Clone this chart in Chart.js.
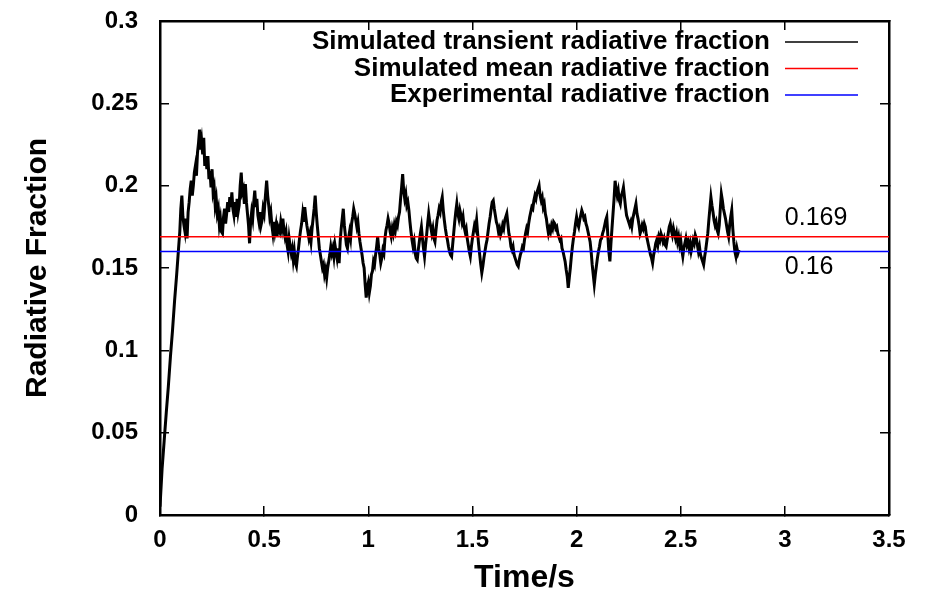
<!DOCTYPE html>
<html>
<head>
<meta charset="utf-8">
<script src="https://cdn.jsdelivr.net/npm/chart.js@4/dist/chart.umd.min.js"></script>
<style>
  html, body { margin: 0; padding: 0; background: #fff; }
</style>
</head>
<body>
<canvas id="radFraction" width="926" height="594"></canvas>
<script>
// time (s) of each sample of the transient radiative fraction
const timeS = [
  0, 0.01, 0.02, 0.03, 0.04, 0.05, 0.06, 0.07, 0.08, 0.088, 0.095,
  0.10, 0.105, 0.11, 0.115, 0.12, 0.125, 0.13, 0.135, 0.14, 0.145, 0.15, 0.155, 0.16, 0.165, 0.17, 0.175, 0.18, 0.185, 0.19, 0.195,
  0.20, 0.205, 0.21, 0.215, 0.22, 0.225, 0.23, 0.235, 0.24, 0.245, 0.25, 0.255, 0.26, 0.265, 0.27, 0.275, 0.28, 0.285, 0.29, 0.295,
  0.30, 0.305, 0.31, 0.315, 0.32, 0.325, 0.33, 0.335, 0.34, 0.345, 0.35, 0.355, 0.36, 0.365, 0.37, 0.375, 0.38, 0.385, 0.39, 0.395,
  0.40, 0.405, 0.41, 0.415, 0.42, 0.425, 0.43, 0.435, 0.44, 0.445, 0.45, 0.455, 0.46, 0.465, 0.47, 0.475, 0.48, 0.485, 0.49, 0.495,
  0.50, 0.505, 0.512, 0.517, 0.522, 0.527, 0.532, 0.537, 0.542, 0.547, 0.552, 0.557, 0.562, 0.567, 0.575, 0.58, 0.585, 0.59, 0.595,
  0.60, 0.605, 0.61, 0.615, 0.62, 0.625, 0.63, 0.635, 0.64, 0.645, 0.65, 0.655, 0.66, 0.665, 0.67, 0.675, 0.68, 0.685, 0.69, 0.695,
  0.70, 0.705, 0.71, 0.715, 0.72, 0.725, 0.73, 0.735, 0.74, 0.745, 0.75, 0.755, 0.76, 0.765, 0.77, 0.775, 0.78, 0.785, 0.79, 0.795,
  0.80, 0.805, 0.81, 0.815, 0.82, 0.825, 0.83, 0.835, 0.84, 0.845, 0.85, 0.855, 0.86, 0.865, 0.87, 0.875, 0.88, 0.885, 0.89, 0.895,
  0.90, 0.905, 0.91, 0.915, 0.92, 0.925, 0.93, 0.935, 0.94, 0.945, 0.95, 0.955, 0.96, 0.965, 0.97, 0.975, 0.98, 0.985, 0.99, 0.995,
  1.00, 1.005, 1.01, 1.015, 1.02, 1.025, 1.03, 1.035, 1.04, 1.045, 1.05, 1.055, 1.06, 1.065, 1.07, 1.075, 1.08, 1.085, 1.09, 1.095,
  1.10, 1.105, 1.11, 1.115, 1.12, 1.125, 1.13, 1.135, 1.14, 1.145, 1.15, 1.155, 1.16, 1.165, 1.17, 1.175, 1.18, 1.185, 1.19, 1.195,
  1.20, 1.205, 1.21, 1.215, 1.22, 1.225, 1.23, 1.235, 1.24, 1.245, 1.25, 1.255, 1.26, 1.265, 1.27, 1.275, 1.28, 1.285, 1.29, 1.295,
  1.30, 1.305, 1.31, 1.315, 1.32, 1.325, 1.33, 1.335, 1.34, 1.345, 1.35, 1.355, 1.36, 1.365, 1.37, 1.375, 1.38, 1.385, 1.39, 1.395,
  1.40, 1.405, 1.41, 1.415, 1.42, 1.425, 1.43, 1.435, 1.44, 1.445, 1.45, 1.455, 1.46, 1.465, 1.47, 1.475, 1.48, 1.485, 1.49, 1.495,
  1.50, 1.505, 1.51, 1.515, 1.52, 1.525, 1.53, 1.535, 1.54, 1.545, 1.55, 1.555, 1.56, 1.565, 1.57, 1.575, 1.58, 1.585, 1.59, 1.595,
  1.60, 1.605, 1.61, 1.615, 1.62, 1.625, 1.63, 1.635, 1.64, 1.645, 1.65, 1.655, 1.66, 1.665, 1.67, 1.675, 1.68, 1.685, 1.69, 1.695,
  1.70, 1.705, 1.71, 1.715, 1.72, 1.725, 1.73, 1.735, 1.74, 1.745, 1.75, 1.755, 1.76, 1.765, 1.77, 1.775, 1.78, 1.785, 1.79, 1.795,
  1.80, 1.805, 1.81, 1.815, 1.82, 1.825, 1.83, 1.835, 1.84, 1.845, 1.85, 1.855, 1.86, 1.865, 1.87, 1.875, 1.88, 1.885, 1.89, 1.895,
  1.90, 1.905, 1.91, 1.915, 1.92, 1.925, 1.93, 1.935, 1.94, 1.945, 1.95, 1.955, 1.96, 1.965, 1.97, 1.975, 1.98, 1.985, 1.99, 1.995,
  2.00, 2.005, 2.01, 2.015, 2.02, 2.025, 2.03, 2.035, 2.04, 2.045, 2.05, 2.055, 2.06, 2.065, 2.07, 2.075, 2.08, 2.085, 2.09, 2.095,
  2.10, 2.105, 2.11, 2.115, 2.12, 2.125, 2.13, 2.135, 2.14, 2.145, 2.15, 2.155, 2.16, 2.165, 2.17, 2.175, 2.18, 2.185, 2.19, 2.195,
  2.20, 2.205, 2.21, 2.215, 2.22, 2.225, 2.23, 2.235, 2.24, 2.245, 2.25, 2.255, 2.26, 2.265, 2.27, 2.275, 2.28, 2.285, 2.29, 2.295,
  2.30, 2.305, 2.31, 2.315, 2.32, 2.325, 2.33, 2.335, 2.34, 2.345, 2.35, 2.355, 2.36, 2.365, 2.37, 2.375, 2.38, 2.385, 2.39, 2.395,
  2.40, 2.405, 2.41, 2.415, 2.42, 2.425, 2.43, 2.435, 2.44, 2.445, 2.45, 2.455, 2.46, 2.465, 2.47, 2.475, 2.48, 2.485, 2.49, 2.495,
  2.50, 2.505, 2.51, 2.515, 2.52, 2.525, 2.53, 2.535, 2.54, 2.545, 2.55, 2.555, 2.56, 2.565, 2.57, 2.575, 2.58, 2.585, 2.59, 2.595,
  2.60, 2.605, 2.61, 2.615, 2.62, 2.625, 2.63, 2.635, 2.64, 2.645, 2.65, 2.655, 2.66, 2.665, 2.67, 2.675, 2.68, 2.685, 2.69, 2.695,
  2.70, 2.705, 2.71, 2.715, 2.72, 2.725, 2.73, 2.735, 2.74, 2.745, 2.75, 2.755, 2.76, 2.765, 2.77, 2.775, 2.78
];

// simulated transient radiative fraction
const transientFraction = [
  0.005, 0.028, 0.045, 0.062, 0.078, 0.096, 0.112, 0.130, 0.146, 0.160, 0.172,
  0.186, 0.194, 0.181, 0.176, 0.172, 0.180, 0.168, 0.184, 0.190, 0.198, 0.203, 0.194, 0.200, 0.208, 0.212, 0.206, 0.220, 0.226, 0.234, 0.222,
  0.227, 0.219, 0.229, 0.212, 0.218, 0.210, 0.218, 0.204, 0.209, 0.199, 0.210, 0.196, 0.199, 0.188, 0.192, 0.183, 0.186, 0.176, 0.180, 0.172,
  0.171, 0.181, 0.186, 0.177, 0.183, 0.190, 0.184, 0.193, 0.187, 0.196, 0.186, 0.182, 0.190, 0.181, 0.192, 0.184, 0.188, 0.200, 0.208, 0.196,
  0.198, 0.189, 0.201, 0.190, 0.183, 0.176, 0.165, 0.178, 0.184, 0.180, 0.190, 0.197, 0.187, 0.192, 0.182, 0.178, 0.184, 0.176, 0.179, 0.186,
  0.183, 0.192, 0.203, 0.194, 0.188, 0.181, 0.184, 0.176, 0.171, 0.178, 0.172, 0.176, 0.169, 0.175, 0.172, 0.178, 0.174, 0.180, 0.173,
  0.169, 0.172, 0.164, 0.160, 0.168, 0.163, 0.159, 0.162, 0.155, 0.160, 0.153, 0.151, 0.157, 0.162, 0.168, 0.173, 0.177, 0.183, 0.178, 0.187,
  0.181, 0.176, 0.172, 0.168, 0.171, 0.166, 0.174, 0.180, 0.186, 0.194, 0.184, 0.176, 0.169, 0.162, 0.158, 0.154, 0.150, 0.152, 0.146, 0.149,
  0.144, 0.150, 0.154, 0.158, 0.163, 0.159, 0.162, 0.157, 0.164, 0.160, 0.156, 0.162, 0.153, 0.166, 0.174, 0.180, 0.186, 0.176, 0.170, 0.164,
  0.162, 0.168, 0.172, 0.168, 0.177, 0.181, 0.186, 0.183, 0.179, 0.175, 0.178, 0.171, 0.166, 0.162, 0.158, 0.153, 0.150, 0.140, 0.132, 0.138,
  0.141, 0.135, 0.139, 0.146, 0.148, 0.154, 0.152, 0.158, 0.163, 0.169, 0.162, 0.158, 0.153, 0.156, 0.161, 0.159, 0.168, 0.173, 0.176, 0.180,
  0.177, 0.172, 0.169, 0.174, 0.171, 0.176, 0.173, 0.178, 0.176, 0.181, 0.184, 0.192, 0.199, 0.207, 0.197, 0.192, 0.195, 0.188, 0.190, 0.185,
  0.178, 0.172, 0.167, 0.163, 0.166, 0.159, 0.156, 0.155, 0.161, 0.166, 0.171, 0.175, 0.168, 0.162, 0.157, 0.164, 0.170, 0.177, 0.183, 0.178,
  0.175, 0.171, 0.174, 0.168, 0.166, 0.173, 0.179, 0.182, 0.186, 0.184, 0.190, 0.193, 0.185, 0.179, 0.174, 0.170, 0.167, 0.163, 0.160, 0.158,
  0.157, 0.164, 0.171, 0.178, 0.184, 0.189, 0.183, 0.180, 0.185, 0.182, 0.178, 0.181, 0.175, 0.172, 0.174, 0.168, 0.164, 0.160, 0.157, 0.163,
  0.168, 0.172, 0.176, 0.174, 0.179, 0.171, 0.164, 0.158, 0.152, 0.147, 0.151, 0.156, 0.160, 0.164, 0.167, 0.172, 0.177, 0.181, 0.186, 0.190,
  0.191, 0.186, 0.182, 0.178, 0.176, 0.172, 0.174, 0.170, 0.172, 0.176, 0.174, 0.179, 0.181, 0.183, 0.177, 0.171, 0.168, 0.163, 0.161, 0.163,
  0.158, 0.156, 0.154, 0.152, 0.151, 0.155, 0.158, 0.160, 0.163, 0.162, 0.167, 0.171, 0.174, 0.172, 0.177, 0.181, 0.184, 0.187, 0.186, 0.191,
  0.194, 0.192, 0.196, 0.198, 0.200, 0.194, 0.191, 0.193, 0.187, 0.189, 0.183, 0.180, 0.175, 0.171, 0.174, 0.172, 0.176, 0.174, 0.178, 0.177,
  0.174, 0.175, 0.171, 0.169, 0.167, 0.168, 0.162, 0.160, 0.157, 0.154, 0.149, 0.145, 0.138, 0.144, 0.150, 0.157, 0.163, 0.168, 0.172, 0.177,
  0.181, 0.177, 0.175, 0.179, 0.182, 0.185, 0.183, 0.180, 0.181, 0.177, 0.175, 0.172, 0.169, 0.166, 0.160, 0.152, 0.146, 0.140, 0.146, 0.151,
  0.156, 0.160, 0.163, 0.167, 0.168, 0.171, 0.173, 0.176, 0.179, 0.181, 0.170, 0.160, 0.154, 0.165, 0.174, 0.183, 0.192, 0.203, 0.198, 0.194,
  0.197, 0.191, 0.189, 0.194, 0.196, 0.199, 0.193, 0.187, 0.182, 0.180, 0.178, 0.176, 0.178, 0.175, 0.180, 0.183, 0.186, 0.189, 0.183, 0.180,
  0.176, 0.171, 0.173, 0.176, 0.174, 0.177, 0.175, 0.170, 0.167, 0.164, 0.161, 0.158, 0.156, 0.153, 0.158, 0.161, 0.165, 0.167, 0.164, 0.169,
  0.167, 0.171, 0.169, 0.166, 0.168, 0.164, 0.163, 0.167, 0.171, 0.175, 0.177, 0.173, 0.170, 0.174, 0.171, 0.168, 0.171, 0.166, 0.169, 0.164,
  0.167, 0.161, 0.157, 0.162, 0.165, 0.168, 0.164, 0.166, 0.162, 0.165, 0.160, 0.163, 0.167, 0.165, 0.170, 0.168, 0.164, 0.160, 0.163, 0.158,
  0.156, 0.154, 0.152, 0.157, 0.161, 0.166, 0.171, 0.179, 0.186, 0.193, 0.188, 0.184, 0.179, 0.176, 0.178, 0.173, 0.171, 0.176, 0.186, 0.195,
  0.191, 0.186, 0.183, 0.180, 0.176, 0.172, 0.169, 0.176, 0.181, 0.185, 0.174, 0.166, 0.160, 0.157, 0.162, 0.159, 0.161
];

const meanFraction = 0.169;          // simulated mean
const experimentalFraction = 0.16;   // experiment
const lineRange = [0, 3.5];

const seriesLabels = [
  'Simulated transient radiative fraction',
  'Simulated mean radiative fraction',
  'Experimental radiative fraction'
];
const seriesColors = ['#000000', '#ff0000', '#0000ff'];
const xTickLabels = ['0', '0.5', '1', '1.5', '2', '2.5', '3', '3.5'];
const yTickLabels = ['0', '0.05', '0.1', '0.15', '0.2', '0.25', '0.3'];

const FONT = '"Liberation Sans", Arial, sans-serif';

// gnuplot style key: text right aligned, line sample on the right
const keyPlugin = {
  id: 'gnuKey',
  afterDraw(chart) {
    const ctx = chart.ctx;
    const area = chart.chartArea;
    const lineEnd = area.right - 31;
    const lineStart = lineEnd - 73;
    const textEnd = lineStart - 15;
    ctx.save();
    ctx.font = 'bold 26px ' + FONT;
    ctx.textAlign = 'right';
    ctx.textBaseline = 'middle';
    seriesLabels.forEach((label, i) => {
      const y = area.top + 21 + i * 26.5;
      ctx.fillStyle = '#000';
      ctx.fillText(label, textEnd, y);
      ctx.strokeStyle = seriesColors[i];
      ctx.lineWidth = 1.5;
      ctx.beginPath();
      ctx.moveTo(lineStart, y);
      ctx.lineTo(lineEnd, y);
      ctx.stroke();
    });

    // value labels next to the two horizontal lines
    const xs = chart.scales.x;
    const ys = chart.scales.y;
    ctx.font = '25px ' + FONT;
    ctx.textAlign = 'left';
    ctx.fillText(String(meanFraction), xs.getPixelForValue(3.0), ys.getPixelForValue(meanFraction) - 19);
    ctx.fillText(String(experimentalFraction), xs.getPixelForValue(3.0), ys.getPixelForValue(experimentalFraction) + 16);
    ctx.restore();
  }
};

const innerGrid = {
  drawOnChartArea: false,
  drawTicks: true,
  tickLength: -9,
  color: '#000',
  lineWidth: 1.5
};
const frame = { display: true, color: '#000', width: 2.5 };

// fixed box sizes, and no extra room for label overhang
function fixBox(w, h) {
  return (s) => {
    if (w !== null) s.width = w;
    if (h !== null) s.height = h;
    s.paddingTop = 0;
    s.paddingBottom = 0;
    s.paddingLeft = 0;
    s.paddingRight = 0;
  };
}

const ctx = document.getElementById('radFraction').getContext('2d');
const radChart = new Chart(ctx, {
  type: 'line',
  data: {
    datasets: [{
      label: seriesLabels[0],
      data: timeS.map((t, i) => ({ x: t, y: transientFraction[i] })),
      borderColor: seriesColors[0],
      borderWidth: 3,
      pointRadius: 0,
      tension: 0,
      order: 2
    }, {
      label: seriesLabels[1],
      data: lineRange.map(t => ({ x: t, y: meanFraction })),
      borderColor: seriesColors[1],
      borderWidth: 1.5,
      pointRadius: 0,
      order: 0
    }, {
      label: seriesLabels[2],
      data: lineRange.map(t => ({ x: t, y: experimentalFraction })),
      borderColor: seriesColors[2],
      borderWidth: 1.5,
      pointRadius: 0,
      order: 1
    }]
  },
  options: {
    responsive: false,
    animation: false,
    events: [],
    layout: {
      padding: { top: 21, right: 37, left: 0, bottom: 0 }
    },
    plugins: {
      legend: { display: false },
      tooltip: { enabled: false }
    },
    scales: {
      x: {
        type: 'linear',
        min: 0,
        max: 3.5,
        grid: innerGrid,
        border: frame,
        ticks: {
          stepSize: 0.5,
          padding: 20,
          color: '#000',
          font: { family: FONT, size: 24, weight: 'bold' },
          callback: (v, i) => xTickLabels[i]
        },
        title: {
          display: true,
          text: 'Time/s',
          color: '#000',
          font: { family: FONT, size: 32, weight: 'bold', lineHeight: 1 },
          padding: { top: 0, bottom: 0 }
        },
        afterFit: fixBox(null, 79)
      },
      x2: {
        type: 'linear',
        position: 'top',
        min: 0,
        max: 3.5,
        grid: innerGrid,
        border: frame,
        ticks: { stepSize: 0.5, display: false },
        afterFit: fixBox(null, 0)
      },
      y: {
        type: 'linear',
        min: 0,
        max: 0.3,
        grid: innerGrid,
        border: frame,
        ticks: {
          stepSize: 0.05,
          padding: 31,
          color: '#000',
          font: { family: FONT, size: 24, weight: 'bold' },
          callback: (v, i) => yTickLabels[i]
        },
        title: {
          display: true,
          text: 'Radiative Fraction',
          color: '#000',
          font: { family: FONT, size: 30, weight: 'bold', lineHeight: 1 },
          padding: { top: 23, bottom: 0 }
        },
        afterFit: fixBox(160, null)
      },
      y2: {
        type: 'linear',
        position: 'right',
        min: 0,
        max: 0.3,
        grid: innerGrid,
        border: frame,
        ticks: { stepSize: 0.05, display: false },
        afterFit: fixBox(0, null)
      }
    }
  },
  plugins: [keyPlugin]
});
</script>
</body>
</html>
